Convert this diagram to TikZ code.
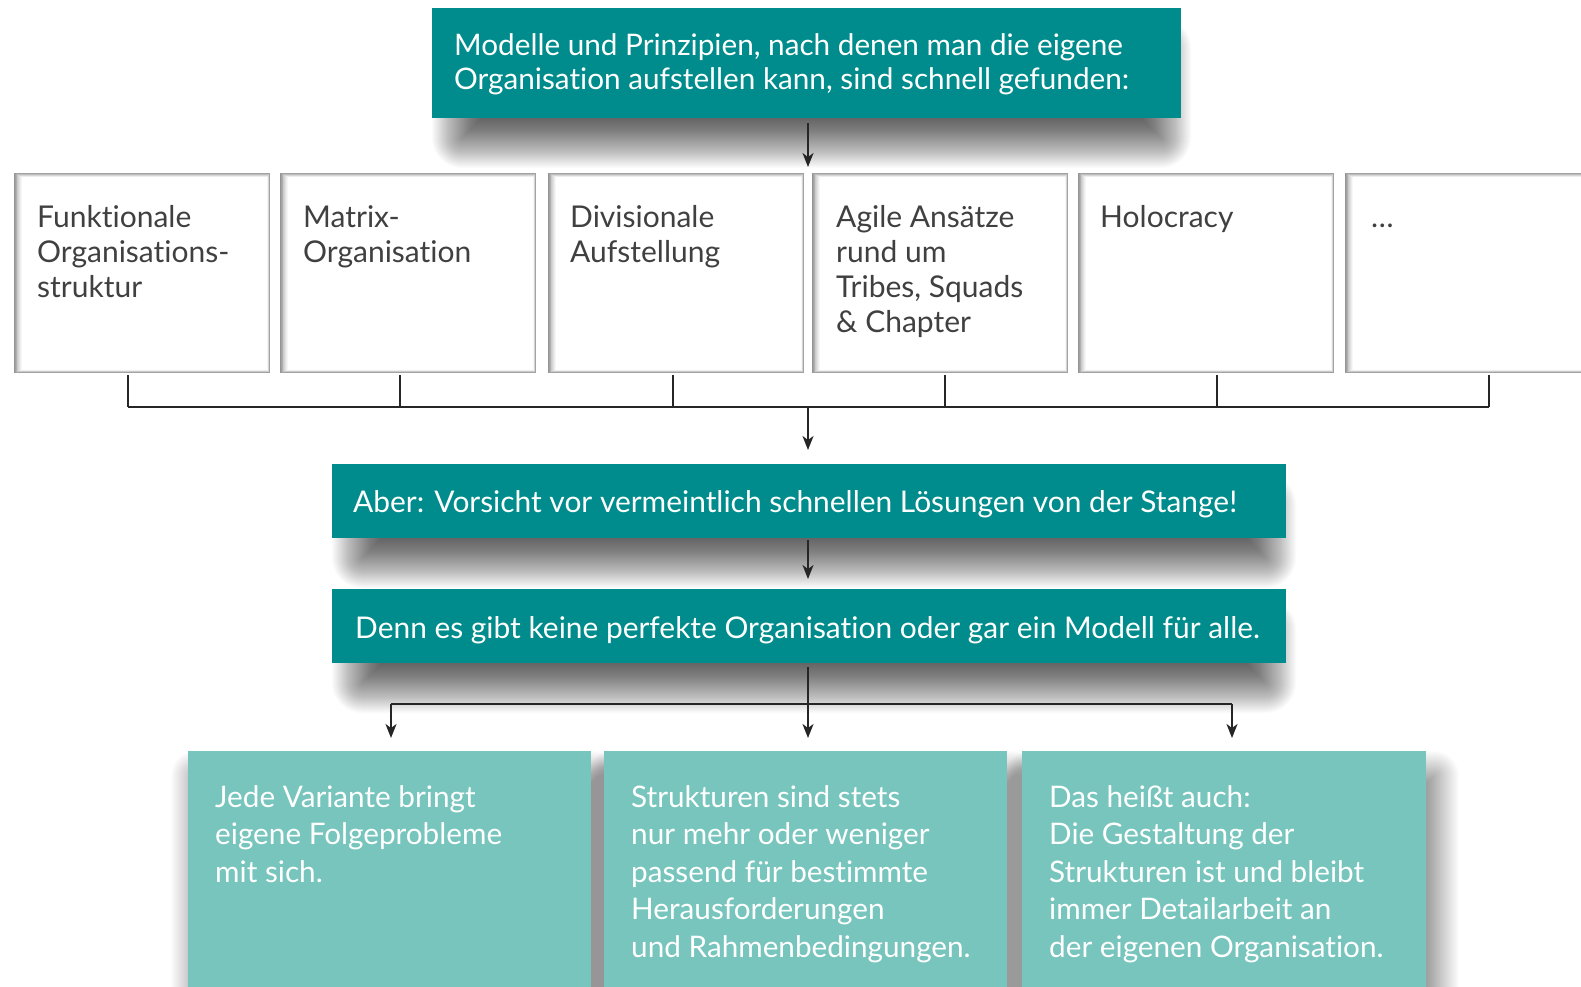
\documentclass[tikz,border=0pt]{standalone}
\usepackage{fontspec}
\setmainfont{Lato}[Ligatures=NoCommon]
\usetikzlibrary{arrows.meta,calc}
\definecolor{tealdark}{RGB}{0,140,140}
\definecolor{teallight}{RGB}{119,197,189}
\definecolor{txtgray}{RGB}{64,64,64}
\newcommand\softshade[8]{%
  \foreach \i in {1,...,#7}{%
    \pgfmathsetmacro\shg{\i-#7/2}%
    \pgfmathsetmacro\shr{max(\shg,0.5)}%
    \fill[black,fill opacity=#8,rounded corners=\shr pt] (#1+#5-\shg,#2+#6-\shg) rectangle (#3+#5+\shg,#4+#6+\shg);
  }}
\newcommand\innershade[4]{%
  \foreach \i in {0,...,9}{%
    \pgfmathsetmacro\shc{max(0,42*(1-\i/9)^1.2)}%
    \fill[black!\shc] (#1+\i*0.85,#2+\i*0.5) rectangle (#3-\i*0.3,#4-\i*0.35);
  }}
\tikzset{
  box/.style={rectangle, inner sep=0pt, outer sep=0pt, anchor=north west},
  darkbox/.style={box, fill=tealdark},
  lightbox/.style={box, fill=teallight},
  wbox/.style={box, minimum width=256pt, minimum height=200pt},
  txt/.style={inner sep=0pt, anchor=base west, align=left},
  toptxt/.style={txt, text=white, font=\fontsize{29.7}{34}\selectfont},
  rowtxt/.style={txt, text=txtgray, font=\fontsize{30}{35}\selectfont},
  bartxt/.style={txt, text=white, font=\fontsize{29.9}{34}\selectfont},
  bottxt/.style={txt, text=white, font=\fontsize{29.7}{37.5}\selectfont},
  conn/.style={draw=black!85, line width=1.6pt},
  arr/.style={conn, -{Stealth[length=14pt,width=11pt,inset=4pt]}},
}
\begin{document}
\begin{tikzpicture}[x=1pt,y=-1pt]
\useasboundingbox (0,0) rectangle (1581,987);
\clip (0,0) rectangle (1581,987);
\fill[white] (0,0) rectangle (1581,987);
% soft shadows
\softshade{80}{300}{1540}{400}{0}{20}{80}{0.0018}
\softshade{462}{28}{1161}{118}{0}{20}{60}{0.014}
\softshade{362}{484}{1266}{538}{0}{20}{60}{0.014}
\softshade{362}{609}{1266}{663}{0}{20}{60}{0.014}
\softshade{188}{770}{591}{1010}{8}{6}{50}{0.012}
\softshade{604}{770}{1007}{1010}{8}{6}{50}{0.012}
\softshade{1022}{770}{1426}{1010}{8}{6}{50}{0.012}
% white boxes inner shading
\innershade{14}{173}{270}{373}
\innershade{280}{173}{536}{373}
\innershade{548}{173}{804}{373}
\innershade{812}{173}{1068}{373}
\innershade{1078}{173}{1334}{373}
\innershade{1345}{173}{1601}{373}
% nodes
\node[darkbox, minimum width=749pt, minimum height=110pt] (top) at (432,8) {};
\node[toptxt] (toptext) at (454,90) {Modelle und Prinzipien, nach denen man die eigene\\Organisation aufstellen kann, sind schnell gefunden:};
\node[wbox] (b1) at (14,173) {};
\node[wbox] (b2) at (280,173) {};
\node[wbox] (b3) at (548,173) {};
\node[wbox] (b4) at (812,173) {};
\node[wbox] (b5) at (1078,173) {};
\node[wbox] (b6) at (1345,173) {};
\node[rowtxt] (t1) at (37,297) {Funktionale\\Organisations-\\struktur};
\node[rowtxt] (t2) at (303,262) {Matrix-\\Organisation};
\node[rowtxt] (t3) at (570,262) {Divisionale\\Aufstellung};
\node[rowtxt] (t4) at (836,332) {Agile Ansätze\\rund um\\Tribes, Squads\\\&~Chapter};
\node[rowtxt] (t5) at (1100,227) {Holocracy};
\node[rowtxt] (t6) at (1371,227) {…};
\node[darkbox, minimum width=954pt, minimum height=74pt] (aber) at (332,464) {};
\node[bartxt] (abertext) at (353,512) {Aber: Vorsicht vor vermeintlich schnellen Lösungen von der Stange!};
\node[darkbox, minimum width=954pt, minimum height=74pt] (denn) at (332,589) {};
\node[bartxt] (denntext) at (355,638) {Denn es gibt keine perfekte Organisation oder gar ein Modell für alle.};
\node[lightbox, minimum width=403pt, minimum height=260pt] (c1) at (188,751) {};
\node[lightbox, minimum width=403pt, minimum height=260pt] (c2) at (604,751) {};
\node[lightbox, minimum width=404pt, minimum height=260pt] (c3) at (1022,751) {};
\node[bottxt] (ct1) at (215,882) {Jede Variante bringt\\eigene Folgeprobleme\\mit sich.};
\node[bottxt] (ct2) at (631,957) {Strukturen sind stets\\nur mehr oder weniger\\passend für bestimmte\\Herausforderungen\\und Rahmenbedingungen.};
\node[bottxt] (ct3) at (1049,957) {Das heißt auch:\\Die Gestaltung der\\Strukturen ist und bleibt\\immer Detailarbeit an\\der eigenen Organisation.};
% connector coordinates
\coordinate (a1) at (808,167);
\coordinate (bus) at (808,407);
\coordinate (s1) at (128,407);
\coordinate (s2) at (400,407);
\coordinate (s3) at (673,407);
\coordinate (s4) at (945,407);
\coordinate (s5) at (1217,407);
\coordinate (s6) at (1489,407);
\coordinate (a2) at (808,450);
\coordinate (a3) at (808,579);
\coordinate (split) at (808,704);
\coordinate (e1) at (391,738);
\coordinate (e2) at (808,738);
\coordinate (e3) at (1232,738);
% connectors
\draw[arr] ($(top.south -| a1)+(0,5)$) -- (a1);
\foreach \k in {1,...,6}{\draw[conn] ($(b\k.south -| s\k)+(0,2)$) -- (s\k);}
\draw[conn] (s1) -- (s6);
\draw[arr] (bus) -- (a2);
\draw[arr] ($(aber.south -| a3)+(0,2)$) -- (a3);
\draw[arr] ($(denn.south -| e2)+(0,4)$) -- (e2);
\draw[conn] (e1 |- split) -- (e3 |- split);
\draw[arr] (e1 |- split) -- (e1);
\draw[arr] (e3 |- split) -- (e3);
\end{tikzpicture}
\end{document}
